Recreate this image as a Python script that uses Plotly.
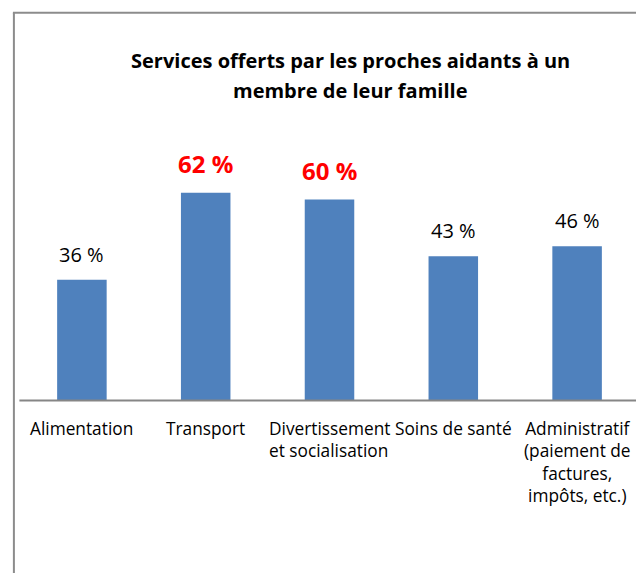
import plotly.graph_objects as go

categories = ["Alimentation", "Transport", "Divertissement et socialisation",
              "Soins de santé", "Administratif (paiement de factures, impôts, etc.)"]
tick_labels = ["Alimentation", "Transport", "Divertissement<br>et socialisation",
               "Soins de santé", "Administratif<br>(paiement de<br>factures,<br>impôts, etc.)"]
tick_align = ["center", "center", "left", "center", "center"]
values = [36, 62, 60, 43, 46]
highlight = [False, True, True, False, False]
title_lines = ["Services offerts par les proches aidants à un", "membre de leur famille"]

OFF = 8  # page body margin
W, H = 636, 565
ML, MR, MT, MB = 19.6 - OFF, 5.4, 166 - OFF, 573 - 400.5
PW = W - ML - MR
PH = H - MT - MB

def px(xpix):
    return (xpix - OFF - ML) / PW

def py(ypix):
    return (H - (ypix - OFF) - MB) / PH

FONT = "Open Sans"

fig = go.Figure()
fig.add_trace(go.Bar(
    x=list(range(len(categories))), y=values, width=0.4,
    marker=dict(color="#4F81BD", line=dict(width=0)),
    hovertext=categories, showlegend=False,
))

for i, (v, h) in enumerate(zip(values, highlight)):
    fig.add_annotation(
        x=i, y=v, xref="x", yref="y", yanchor="middle", yshift=29 if h else 25.5,
        text=(f"<b>{v} %</b>" if h else f"{v} %"), showarrow=False,
        font=dict(family=FONT, size=24 if h else 20, color="#FF0000" if h else "#000000"),
    )

# category labels
for i, (t, a) in enumerate(zip(tick_labels, tick_align)):
    fig.add_annotation(x=i, y=0, xref="x", yref="y", xanchor="center",
                       yanchor="top", yshift=-15, text=t, align=a, showarrow=False,
                       font=dict(family=FONT, size=17.3, color="#000000"))

# title
for k, (line, ypos) in enumerate(zip(title_lines, [60, 90])):
    fig.add_annotation(x=px(350), y=py(ypos), xref="paper", yref="paper",
                       xanchor="center", yanchor="middle", text=f"<b>{line}</b>",
                       showarrow=False, font=dict(family=FONT, size=20, color="#000000"))

# baseline
fig.add_shape(type="line", xref="paper", yref="paper", x0=px(19), x1=px(650),
              y0=py(401), y1=py(401), line=dict(color="#868686", width=2))
# outer chart border (left and top)
fig.add_shape(type="line", xref="paper", yref="paper", x0=px(13.5), x1=px(13.5),
              y0=py(12.5), y1=py(580), line=dict(color="#8C8C8C", width=2))
fig.add_shape(type="line", xref="paper", yref="paper", x0=px(12.5), x1=px(650),
              y0=py(12.5), y1=py(12.5), line=dict(color="#8C8C8C", width=2))

fig.update_layout(
    width=W, height=H,
    margin=dict(l=ML, r=MR, t=MT, b=MB, pad=0),
    paper_bgcolor="white", plot_bgcolor="white",
    xaxis=dict(range=[-0.5, 4.5], showticklabels=False, showgrid=False, zeroline=False,
               showline=False, ticks=""),
    yaxis=dict(range=[0, 70], visible=False, showgrid=False, zeroline=False),
    bargap=0.6,
)

fig.write_html("out.html")
